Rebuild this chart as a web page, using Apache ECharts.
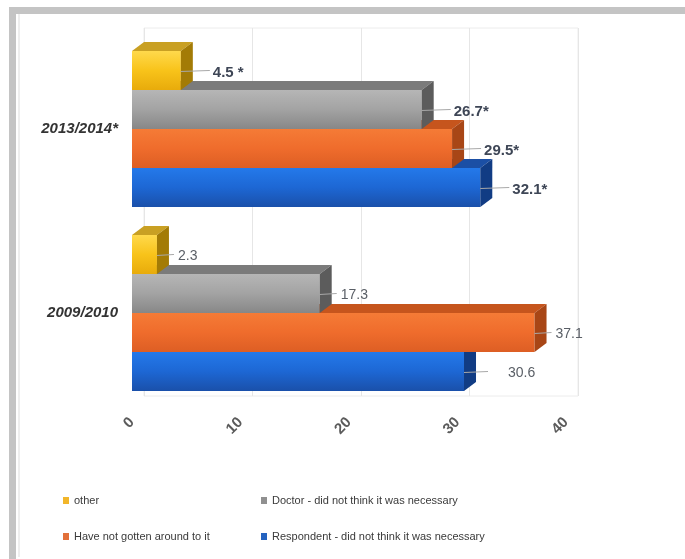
<!DOCTYPE html>
<html>
<head>
<meta charset="utf-8">
<script src="https://cdn.jsdelivr.net/npm/echarts@6/dist/echarts.min.js"></script>
<style>
  html, body { margin: 0; padding: 0; background: #fff; }
  #wrap { position: relative; width: 685px; height: 559px; overflow: hidden; background: #fff; }
  #frame { position: absolute; left: 9px; top: 7px; width: 700px; height: 545px;
           border-top: 7px solid #c4c4c4; border-left: 7px solid #c4c4c4; border-bottom: 3px solid #c4c4c4; }
  #inner { position: absolute; left: 18px; top: 14px; width: 2px; height: 543px; background: #eeeeee; }
  #chart { position: absolute; left: 0; top: 0; width: 685px; height: 559px; }
</style>
</head>
<body>
<div id="wrap">
  <div id="frame"></div>
  <div id="inner"></div>
  <div id="chart"></div>
</div>
<script>
// ---- data ----
const categories = ['2009/2010', '2013/2014*'];
const xTicks = [0, 10, 20, 30, 40];
const respondent = [30.6, 32.1];   // Respondent - did not think it was necessary
const haveNot = [37.1, 29.5];      // Have not gotten around to it
const doctor = [17.3, 26.7];       // Doctor - did not think it was necessary
const other = [2.3, 4.5];          // other
const suffix2013 = ['*', '*', '*', ' *'];  // label suffix per series for 2013/2014

const seriesNames = [
  'Respondent - did not think it was necessary',
  'Have not gotten around to it',
  'Doctor - did not think it was necessary',
  'other'
];
const seriesValues = [respondent, haveNot, doctor, other];

const palette = [
  { legend: '#2563c0', front: ['#2479ea', '#1d67d4', '#1a50aa'], top: '#1b4fa5', side: '#113c84' },
  { legend: '#e2703a', front: ['#f57b36', '#ef6c2c', '#dd5e24'], top: '#c6551d', side: '#a84616' },
  { legend: '#909090', front: ['#b6b6b6', '#a3a3a3', '#878787'], top: '#7b7b7b', side: '#5c5c5c' },
  { legend: '#f2b62a', front: ['#ffd94c', '#f8c31a', '#e8ab0b'], top: '#c9a023', side: '#a37b06' }
];

const DX = 12, DY = 9;

function makeRender(si) {
  const pal = palette[si];
  return function (params, api) {
    const v = api.value(0);
    const ci = api.value(1);
    const p0 = api.coord([0, ci]);
    const p1 = api.coord([v, ci]);
    const band = api.size([0, 1])[1];
    const barH = band * 0.212;
    const yc = p0[1] + (1.5 - si) * barH;
    const y0 = yc - barH / 2, y1 = yc + barH / 2;
    const x0 = p0[0], x1 = p1[0];
    const bold = ci === 1;
    const lineLen = bold ? 29 : (si === 0 ? 24 : 17);
    const gap = bold ? 3 : (si === 0 ? 20 : 4);
    const txt = bold ? (v + suffix2013[si]) : String(v);
    return {
      type: 'group',
      children: [
        { type: 'rect', shape: { x: x0, y: y0, width: x1 - x0, height: y1 - y0 },
          style: { fill: { type: 'linear', x: 0, y: 0, x2: 0, y2: 1,
            colorStops: [{ offset: 0, color: pal.front[0] }, { offset: 0.5, color: pal.front[1] }, { offset: 1, color: pal.front[2] }] } } },
        { type: 'polygon', shape: { points: [[x0, y0], [x0 + DX, y0 - DY], [x1 + DX, y0 - DY], [x1, y0]] },
          style: { fill: pal.top } },
        { type: 'polygon', shape: { points: [[x1, y0], [x1 + DX, y0 - DY], [x1 + DX, y1 - DY], [x1, y1]] },
          style: { fill: pal.side } },
        { type: 'line', shape: { x1: x1, y1: yc + 1, x2: x1 + lineLen, y2: yc },
          style: { stroke: '#a8a8a8', lineWidth: 1 } },
        { type: 'text', style: { text: txt, x: x1 + lineLen + gap, y: yc + 2,
            align: 'left', verticalAlign: 'middle',
            fontFamily: 'Liberation Sans', fontSize: bold ? 15 : 14, fontWeight: bold ? 'bold' : 'normal',
            fill: bold ? '#3e4656' : '#5a5f66' } }
      ]
    };
  };
}

const series = seriesNames.map((name, si) => ({
  name: name,
  type: 'custom',
  xAxisIndex: 0,
  yAxisIndex: 0,
  z: 3 + si,
  itemStyle: { color: palette[si].legend },
  renderItem: makeRender(si),
  encode: { x: 0, y: 1 },
  data: seriesValues[si].map((v, ci) => [v, ci])
}));

const chart = echarts.init(document.getElementById('chart'), null, { renderer: 'canvas' });
const legendText = { fontFamily: 'Liberation Sans', fontSize: 11, color: '#3a3a3a' };
chart.setOption({
  animation: false,
  grid: [
    { left: 132, right: 119, top: 37, bottom: 154 },
    { left: 144, right: 107, top: 28, bottom: 163, show: true, borderColor: '#ececec', borderWidth: 1 }
  ],
  xAxis: [
    { gridIndex: 0, type: 'value', min: xTicks[0], max: xTicks[xTicks.length - 1], interval: 10,
      axisLine: { show: false }, axisTick: { show: false }, splitLine: { show: false },
      axisLabel: { rotate: 45, margin: 15, fontFamily: 'Liberation Sans', fontSize: 15, fontWeight: 'bold', color: '#5b5b5b' } },
    { gridIndex: 1, type: 'value', min: xTicks[0], max: xTicks[xTicks.length - 1], interval: 10,
      axisLine: { show: false }, axisTick: { show: false }, axisLabel: { show: false },
      splitLine: { show: true, lineStyle: { color: '#e6e6e6', width: 1 } } }
  ],
  yAxis: [
    { gridIndex: 0, type: 'category', data: categories,
      axisLine: { show: false }, axisTick: { show: false },
      axisLabel: { margin: 14, fontFamily: 'Liberation Sans', fontSize: 15, fontWeight: 'bold', fontStyle: 'italic', color: '#333333' } },
    { gridIndex: 1, type: 'category', data: categories, show: false }
  ],
  legend: [
    { left: 58, top: 490, orient: 'vertical', itemGap: 25, itemWidth: 6, itemHeight: 7, icon: 'rect',
      data: ['other', 'Have not gotten around to it'], textStyle: legendText, selectedMode: false },
    { left: 256, top: 490, orient: 'vertical', itemGap: 25, itemWidth: 6, itemHeight: 7, icon: 'rect',
      data: ['Doctor - did not think it was necessary', 'Respondent - did not think it was necessary'], textStyle: legendText, selectedMode: false }
  ],
  series: series
});
</script>
</body>
</html>
